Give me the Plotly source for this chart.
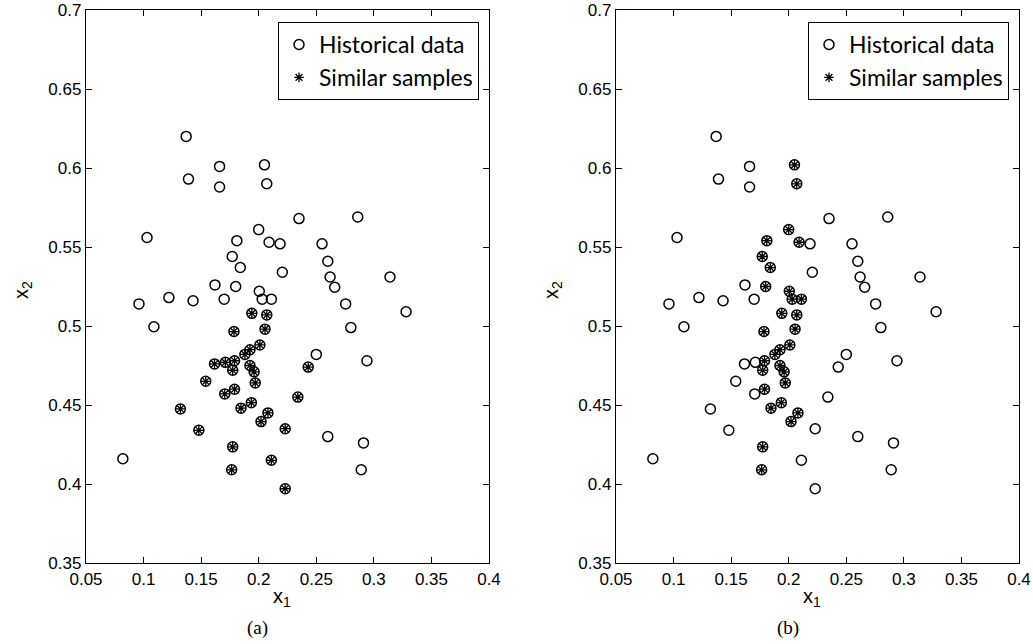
import plotly.graph_objects as go

# Historical operating points (x1, x2)
x1 = [0.137, 0.139, 0.166, 0.166, 0.205, 0.207, 0.103, 0.181, 0.200, 0.209,
      0.2185, 0.235, 0.286, 0.255, 0.260, 0.177, 0.184, 0.2205, 0.262, 0.266,
      0.314, 0.180, 0.162, 0.170, 0.2005, 0.203, 0.211, 0.096, 0.122, 0.143,
      0.109, 0.2755, 0.328, 0.280, 0.294, 0.250, 0.260, 0.291, 0.289, 0.082,
      0.194, 0.207, 0.2055, 0.1785, 0.201, 0.1924, 0.188, 0.1616, 0.171, 0.179,
      0.1774, 0.1924, 0.196, 0.197, 0.154, 0.1705, 0.179, 0.1936, 0.1846, 0.208,
      0.202, 0.132, 0.148, 0.1774, 0.1765, 0.211, 0.223, 0.223, 0.234, 0.243]
x2 = [0.620, 0.593, 0.601, 0.588, 0.602, 0.590, 0.556, 0.554, 0.561, 0.553,
      0.552, 0.568, 0.569, 0.552, 0.541, 0.544, 0.537, 0.534, 0.531, 0.5245,
      0.531, 0.525, 0.526, 0.517, 0.522, 0.517, 0.517, 0.514, 0.518, 0.516,
      0.4995, 0.514, 0.509, 0.499, 0.478, 0.482, 0.430, 0.426, 0.409, 0.416,
      0.508, 0.507, 0.498, 0.4965, 0.488, 0.485, 0.482, 0.476, 0.477, 0.478,
      0.472, 0.475, 0.471, 0.464, 0.465, 0.457, 0.460, 0.4515, 0.448, 0.445,
      0.4395, 0.4475, 0.434, 0.4235, 0.409, 0.415, 0.435, 0.397, 0.455, 0.474]

# Indices of the similar samples selected by each method
similar_a = list(range(40, 70))
similar_b = [4, 5, 7, 8, 9, 15, 16, 21, 24, 25, 26,
             40, 41, 42, 43, 44, 45, 46, 49, 50, 51, 52, 53,
             56, 57, 58, 59, 60, 63, 64]

x_ticks = [0.05, 0.1, 0.15, 0.2, 0.25, 0.3, 0.35, 0.4]
y_ticks = [0.35, 0.4, 0.45, 0.5, 0.55, 0.6, 0.65, 0.7]
panel_labels = ["(a)", "(b)"]

W, H = 1033, 644
tick_font = dict(family="Liberation Sans, Arial, sans-serif", size=17, color="black")

fig = go.Figure()

panels = [
    (similar_a, "x", "y", "legend"),
    (similar_b, "x2", "y2", "legend2"),
]
for sim, xa, ya, lg in panels:
    fig.add_trace(go.Scatter(
        x=x1, y=x2, mode="markers", name="Historical data",
        xaxis=xa, yaxis=ya, legend=lg,
        marker=dict(symbol="circle-open", size=10, color="black",
                    line=dict(width=1.5, color="black")),
    ))
    fig.add_trace(go.Scatter(
        x=[x1[i] for i in sim], y=[x2[i] for i in sim],
        mode="markers", name="Similar samples",
        xaxis=xa, yaxis=ya, legend=lg,
        marker=dict(symbol="asterisk-open", size=8, color="black",
                    line=dict(width=1.3, color="black")),
    ))

def axis_style(ticks, rng):
    return dict(
        range=rng, tickvals=ticks, ticktext=[f"{t:g}" for t in ticks],
        showline=True, linecolor="black", linewidth=1.3, mirror="ticks",
        ticks="inside", ticklen=6, tickwidth=1.2, tickcolor="black",
        showgrid=False, zeroline=False, automargin=False,
        tickfont=tick_font,
    )

y_dom = [(H - 563) / H, (H - 10) / H]
left_dom = [86 / W, 489 / W]
right_dom = [616 / W, 1019 / W]

fig.update_layout(
    width=W, height=H,
    margin=dict(l=0, r=0, t=0, b=0),
    paper_bgcolor="white", plot_bgcolor="white",
    showlegend=True,
    xaxis=dict(domain=left_dom, anchor="y", **axis_style(x_ticks, [0.05, 0.4])),
    yaxis=dict(domain=y_dom, anchor="x", **axis_style(y_ticks, [0.35, 0.7])),
    xaxis2=dict(domain=right_dom, anchor="y2", **axis_style(x_ticks, [0.05, 0.4])),
    yaxis2=dict(domain=y_dom, anchor="x2", **axis_style(y_ticks, [0.35, 0.7])),
)

legend_common = dict(
    xanchor="right", yanchor="top", y=(H - 22) / H,
    bgcolor="white", bordercolor="black", borderwidth=1,
    font=dict(family="Lato, Noto Sans, sans-serif", size=23, color="black"),
    itemwidth=30, tracegroupgap=0,
)
fig.update_layout(
    legend=dict(x=479 / W, **legend_common),
    legend2=dict(x=1009 / W, **legend_common),
)

# Axis titles and panel captions
title_font = dict(family="Liberation Sans, Arial, sans-serif", size=20, color="black")
cap_font = dict(family="Liberation Serif, Times New Roman, serif", size=19, color="black")
for dom, cap in zip([left_dom, right_dom], panel_labels):
    cx = (dom[0] + dom[1]) / 2
    fig.add_annotation(x=cx - 6 / W, y=(H - 597) / H, xref="paper", yref="paper",
                       xanchor="center", yanchor="middle",
                       text="x<sub>1</sub>", showarrow=False, font=title_font)
    fig.add_annotation(x=dom[0] - 64 / W, y=(H - 290) / H, xref="paper", yref="paper",
                       xanchor="center", yanchor="middle",
                       text="x<sub>2</sub>", textangle=-90, showarrow=False,
                       font=title_font)
    fig.add_annotation(x=cx - 30 / W, y=(H - 628) / H, xref="paper", yref="paper",
                       xanchor="center", yanchor="middle",
                       text=cap, showarrow=False, font=cap_font)

fig.write_html("out.html")
